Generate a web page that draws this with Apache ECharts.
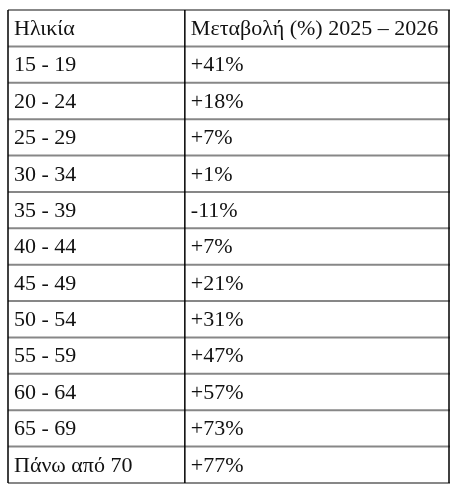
<!DOCTYPE html>
<html><head><meta charset="utf-8">
<script src="https://cdn.jsdelivr.net/npm/echarts@6/dist/echarts.min.js"></script>
<style>html,body{margin:0;padding:0;background:#fff}#c{width:462px;height:492px}</style>
</head><body><div id="c"></div>
<script>
var headers = ['Ηλικία', 'Μεταβολή (%) 2025 – 2026'];
var ageGroups = ['15 - 19','20 - 24','25 - 29','30 - 34','35 - 39','40 - 44','45 - 49','50 - 54','55 - 59','60 - 64','65 - 69','Πάνω από 70'];
var changes = ['+41%','+18%','+7%','+1%','-11%','+7%','+21%','+31%','+47%','+57%','+73%','+77%'];
var colSplit = 0.401;

var rows = [headers].concat(ageGroups.map(function(a,i){return [a, changes[i]];}));
var nRows = rows.length;
var cells = [];
rows.forEach(function(r,i){ cells.push([0,i,r[0]]); cells.push([colSplit,i,r[1]]); });
var hLines = []; for (var i=0;i<=nRows;i++) hLines.push([i]);
var vLines = [[0],[colSplit],[1]];

var chart = echarts.init(document.getElementById('c'));
chart.setOption({
  animation:false,
  grid:{left:8,right:13,top:10,bottom:9},
  xAxis:{type:'value',min:0,max:1,show:false},
  yAxis:{type:'value',min:0,max:nRows,inverse:true,show:false},
  series:[
    {type:'custom',data:hLines,renderItem:function(p,api){
      var a=api.coord([0,api.value(0)]), b=api.coord([1,api.value(0)]);
      return {type:'line',shape:{x1:a[0],y1:a[1],x2:b[0]+1,y2:b[1]},style:{stroke:'#878787',lineWidth:2}};
    }},
    {type:'custom',data:vLines,renderItem:function(p,api){
      var a=api.coord([api.value(0),0]), b=api.coord([api.value(0),nRows]);
      return {type:'line',shape:{x1:a[0],y1:a[1],x2:b[0],y2:b[1]},style:{stroke:'#000',lineWidth:1.5}};
    }},
    {type:'custom',data:cells,renderItem:function(p,api){
      var c=api.coord([api.value(0),api.value(1)+0.5]);
      return {type:'text',x:c[0]+6,y:c[1]+1,style:{text:cells[p.dataIndex][2],font:'22px "Liberation Serif"',fill:'#111',verticalAlign:'middle',align:'left'}};
    }}
  ]
});
</script></body></html>
